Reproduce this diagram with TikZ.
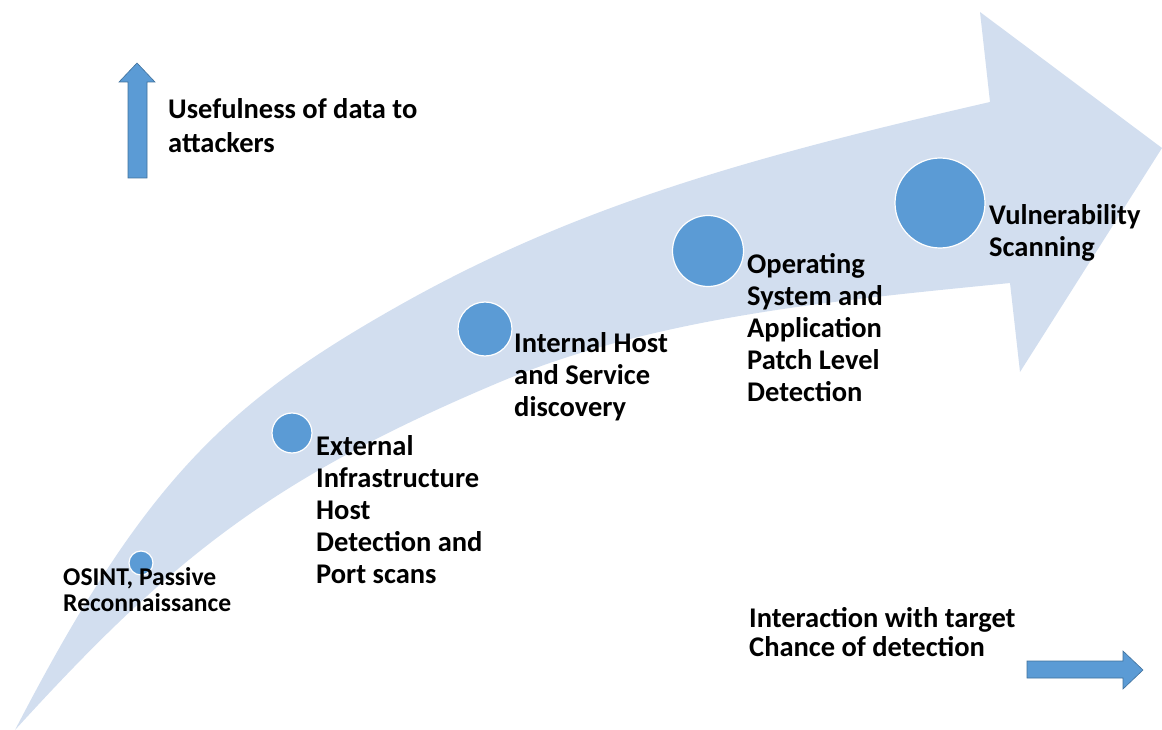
\documentclass[tikz,border=0pt]{standalone}
\usepackage{fontspec}
\setmainfont{Carlito}
\definecolor{bandblue}{RGB}{210,222,239}
\definecolor{dotblue}{RGB}{91,155,213}
\definecolor{edgeblue}{RGB}{65,113,156}
\begin{document}
\begin{tikzpicture}[x=1pt,y=-1pt,
  band/.style={fill=bandblue},
  dot/.style={circle, fill=dotblue, draw=white, line width=1.2pt, inner sep=0pt, minimum size=#1},
  % anchored at the baseline of the last line
  lbl/.style={anchor=base west, inner sep=0pt, align=left, font=\bfseries\fontsize{28.5}{#1}\selectfont},
  lbl/.default=32,
  small/.style={font=\bfseries\fontsize{25.6}{26}\selectfont},
  blockarrow/.style={fill=dotblue, draw=edgeblue, line width=0.6pt}]
\useasboundingbox (0,0) rectangle (1162,730);

% curved progression arrow
\fill[band] (15,730) .. controls (144,481) and (226,403) .. (400,305)
  .. controls (574,207) and (746,158) .. (990,102)
  -- (980,12) -- (1162,148) -- (1020,372) -- (1010,283)
  .. controls (841,300) and (657,316) .. (500,382)
  .. controls (269.5,479) and (170,560) .. (15,730) -- cycle;

% stages
\node[dot=24pt] (s1) at (141,563) {};
\node[dot=40pt] (s2) at (292,433) {};
\node[dot=54pt] (s3) at (485,329) {};
\node[dot=71pt] (s4) at (708,251) {};
\node[dot=90pt] (s5) at (940,203) {};

\node[lbl, small] (t1) at (63,611) {OSINT, Passive\\Reconnaissance};
\node[lbl] (t2) at (316,583) {External\\Infrastructure\\Host\\Detection and\\Port scans};
\node[lbl] (t3) at (514,416) {Internal Host\\and Service\\discovery};
\node[lbl] (t4) at (747,401) {Operating\\System and\\Application\\Patch Level\\Detection};
\node[lbl] (t5) at (989,256) {Vulnerability\\Scanning};

% axes legend
\fill[blockarrow] (128,178) -- (128,82) -- (119,82) -- (137,63) -- (155,82) -- (147,82) -- (147,178) -- cycle;
\node[lbl=34] (up) at (168,153) {Usefulness of data to\\attackers};

\fill[blockarrow] (1027,661) -- (1123,661) -- (1123,651) -- (1143,670) -- (1123,689) -- (1123,678) -- (1027,678) -- cycle;
\node[lbl=29] (right) at (749,656) {Interaction with target\\Chance of detection};
\end{tikzpicture}
\end{document}
